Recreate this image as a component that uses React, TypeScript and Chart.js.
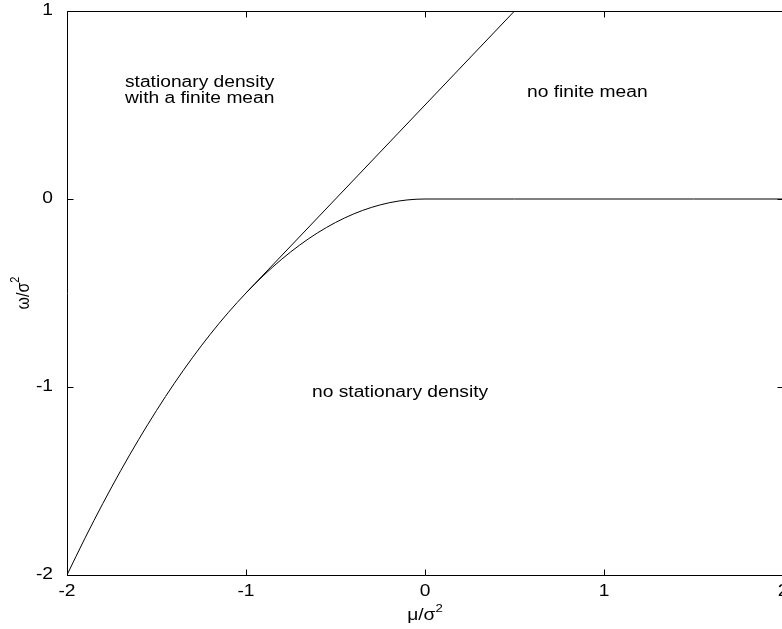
import React, { useEffect, useRef } from "react";
import { Chart, registerables } from "chart.js";

Chart.register(...registerables);

// Boundary curve: stationary density exists above it
const curveX = [-2, -1.9, -1.8, -1.7, -1.6, -1.5, -1.4, -1.3, -1.2, -1.1, -1.0, -0.9, -0.8, -0.7, -0.6, -0.5, -0.4, -0.3, -0.2, -0.1, 0, 0.5, 1, 1.5, 2];
const curveY = [-2, -1.805, -1.62, -1.445, -1.28, -1.125, -0.98, -0.845, -0.72, -0.605, -0.5, -0.405, -0.32, -0.245, -0.18, -0.125, -0.08, -0.045, -0.02, -0.005, 0, 0, 0, 0, 0];

// Straight boundary: finite mean above it
const lineX = [-1, 0.5];
const lineY = [-0.5, 1];

const xTicks = [-2, -1, 0, 1, 2];
const yTicks = [-2, -1, 0, 1];
const xTickLabels = ["-2", "-1", "0", "1", "2"];
const yTickLabels = ["-2", "-1", "0", "1"];

const xTitleBase = "μ/σ";
const yTitleBase = "ω/σ";
const titleSup = "2";

const regionTexts = ["stationary density", "with a finite mean", "no finite mean", "no stationary density"];

const FONT = "'Liberation Sans', Arial, sans-serif";
const FONT_SIZE = 16;
const SUP_SIZE = 11;
const STRETCH = 1.2;

// anchor (data coords) for each region label (left edge, vertical middle)
const regionAnchors = [
  { x: -1.676, y: 0.617 },
  { x: -1.676, y: 0.532 },
  { x: 0.57, y: 0.564 },
  { x: -0.631, y: -1.032 },
];

function stretchedText(ctx: any, text: string, x: number, y: number, align: "left" | "center" | "right") {
  ctx.save();
  ctx.translate(x, y);
  ctx.scale(STRETCH, 1);
  ctx.textAlign = align;
  ctx.fillText(text, 0, 0);
  ctx.restore();
}

function supTitle(ctx: any, base: string, sup: string) {
  // draws centered at origin (0,0), baseline-middle
  ctx.font = `${FONT_SIZE}px ${FONT}`;
  const wb = ctx.measureText(base).width;
  ctx.font = `${SUP_SIZE}px ${FONT}`;
  const ws = ctx.measureText(sup).width;
  const total = wb + ws;
  ctx.textAlign = "left";
  ctx.textBaseline = "middle";
  ctx.font = `${FONT_SIZE}px ${FONT}`;
  ctx.fillText(base, -total / 2, 0);
  ctx.font = `${SUP_SIZE}px ${FONT}`;
  ctx.fillText(sup, -total / 2 + wb, -7);
}

const framePlugin = {
  id: "frameTicks",
  afterDatasetsDraw(chart: any) {
    const { ctx, chartArea, scales } = chart;
    const { left, right, top, bottom } = chartArea;
    const xs = scales.x;
    const ys = scales.y;
    ctx.save();
    ctx.strokeStyle = "#000";
    ctx.lineWidth = 1;
    const L = Math.round(left) + 0.5;
    const R = Math.round(right) + 0.5;
    const T = Math.round(top) + 0.5;
    const B = Math.round(bottom) + 0.5;
    ctx.beginPath();
    ctx.moveTo(L, T);
    ctx.lineTo(R, T);
    ctx.lineTo(R, B);
    ctx.lineTo(L, B);
    ctx.closePath();
    ctx.stroke();
    const tl = 6;
    ctx.beginPath();
    for (const v of xTicks) {
      const px = Math.round(xs.getPixelForValue(v)) + 0.5;
      ctx.moveTo(px, B);
      ctx.lineTo(px, B - tl);
      ctx.moveTo(px, T);
      ctx.lineTo(px, T + tl);
    }
    for (const v of yTicks) {
      const py = Math.round(ys.getPixelForValue(v)) + 0.5;
      ctx.moveTo(L, py);
      ctx.lineTo(L + tl, py);
      ctx.moveTo(R, py);
      ctx.lineTo(R - tl, py);
    }
    ctx.stroke();

    ctx.fillStyle = "#000";
    ctx.font = `${FONT_SIZE}px ${FONT}`;
    ctx.textBaseline = "middle";

    // tick labels
    xTicks.forEach((v, i) => {
      stretchedText(ctx, xTickLabels[i], xs.getPixelForValue(v), bottom + 17, "center");
    });
    yTicks.forEach((v, i) => {
      stretchedText(ctx, yTickLabels[i], left - 14, ys.getPixelForValue(v), "right");
    });

    // region labels
    ctx.font = `${FONT_SIZE}px ${FONT}`;
    regionTexts.forEach((t, i) => {
      const a = regionAnchors[i];
      stretchedText(ctx, t, xs.getPixelForValue(a.x), ys.getPixelForValue(a.y), "left");
    });

    // axis titles
    ctx.save();
    ctx.translate(xs.getPixelForValue(0), bottom + 41);
    ctx.scale(STRETCH, 1);
    supTitle(ctx, xTitleBase, titleSup);
    ctx.restore();

    ctx.save();
    ctx.translate(24, (top + bottom) / 2);
    ctx.scale(STRETCH, 1);
    ctx.rotate(-Math.PI / 2);
    supTitle(ctx, yTitleBase, titleSup);
    ctx.restore();

    ctx.restore();
  },
};

export default function App() {
  const ref = useRef<HTMLCanvasElement | null>(null);

  useEffect(() => {
    if (!ref.current) return;
    const chart = new Chart(ref.current, {
      type: "line",
      data: {
        datasets: [
          {
            data: curveX.map((x, i) => ({ x, y: curveY[i] })),
            borderColor: "#000",
            borderWidth: 1,
            pointRadius: 0,
            fill: false,
            cubicInterpolationMode: "monotone",
          },
          {
            data: lineX.map((x, i) => ({ x, y: lineY[i] })),
            borderColor: "#000",
            borderWidth: 1,
            pointRadius: 0,
            fill: false,
          },
        ],
      },
      options: {
        animation: false,
        responsive: true,
        maintainAspectRatio: false,
        layout: { padding: { top: 11, right: 17, left: 0, bottom: 0 } },
        plugins: { legend: { display: false }, tooltip: { enabled: false } },
        scales: {
          x: {
            type: "linear",
            min: -2,
            max: 2,
            afterBuildTicks: (s: any) => {
              s.ticks = xTicks.map((v) => ({ value: v }));
            },
            afterFit: (s: any) => {
              s.height = 54;
            },
            grid: { display: false, drawTicks: false },
            border: { display: false },
            ticks: { display: false },
          },
          y: {
            type: "linear",
            min: -2,
            max: 1,
            afterBuildTicks: (s: any) => {
              s.ticks = yTicks.map((v) => ({ value: v }));
            },
            afterFit: (s: any) => {
              s.width = 67;
            },
            grid: { display: false, drawTicks: false },
            border: { display: false },
            ticks: { display: false },
          },
        },
      },
      plugins: [framePlugin],
    });
    return () => chart.destroy();
  }, []);

  return (
    <div style={{ position: "absolute", left: 0, top: 0, width: 782, height: 629, overflow: "hidden", background: "#fff" }}>
      <div style={{ position: "relative", width: 800, height: 629 }}>
        <canvas ref={ref} />
      </div>
    </div>
  );
}
